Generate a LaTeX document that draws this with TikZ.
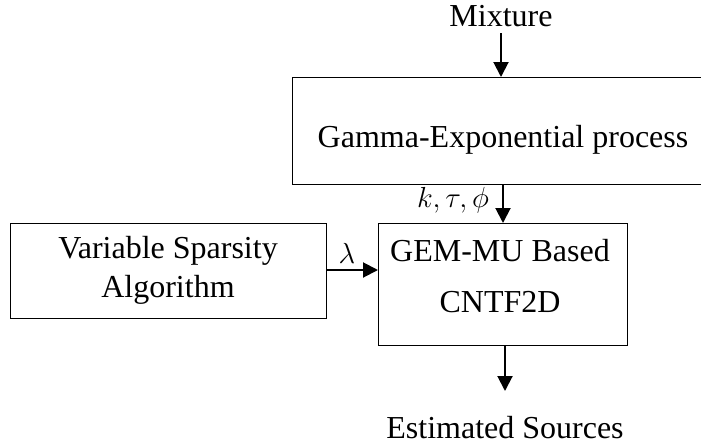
\documentclass[tikz,border=0pt]{standalone}
\usepackage{fix-cm}
\usepackage{fontspec}
\setmainfont{Liberation Serif}
\usetikzlibrary{arrows.meta}
\begin{document}
\begin{tikzpicture}[x=1pt,y=-1pt,
  boxst/.style={draw, line width=1pt},
  arr/.style={line width=2pt, -{Triangle[width=15pt,length=15pt]}},
  txt/.style={font=\fontsize{32}{38}\selectfont, inner sep=0pt},
  mtxt/.style={font=\fontsize{29}{35}\selectfont, inner sep=0pt}]
\useasboundingbox (0,0) rectangle (701,447);
% boxes
\draw[boxst] (292,77) rectangle (706,184);
\coordinate (gtop) at (501,77);
\coordinate (gbot) at (503,184);
\draw[boxst] (10,223) rectangle (326,318);
\coordinate (vright) at (326,270);
\draw[boxst] (378,223) rectangle (627,345);
\coordinate (gemtop) at (503,223);
\coordinate (gemleft) at (378,270);
\coordinate (gembot) at (505,345);
% texts
\node[txt] (mix) at (501,16) {Mixture};
\node[txt] (gtext) at (503,140) {Gamma-Exponential process};
\node[txt] (v1) at (168,251) {Variable Sparsity};
\node[txt] (v2) at (168,290) {Algorithm};
\node[txt] (g1) at (500,251) {GEM-MU Based};
\node[txt] (g2) at (500,302) {CNTF2D};
\node[txt] (est) at (505,428) {Estimated Sources};
\node[mtxt] (ktp) at (453,200) {$k,\tau,\phi$};
\node[mtxt] (lam) at (347,253) {$\lambda$};
\coordinate (mixbot) at (501,33);
\coordinate (estop) at (505,391);
% arrows
\draw[arr] (mixbot) -- (gtop);
\draw[arr] (gbot) -- (gemtop);
\draw[arr] (vright) -- (gemleft);
\draw[arr] (gembot) -- (estop);
\end{tikzpicture}
\end{document}
